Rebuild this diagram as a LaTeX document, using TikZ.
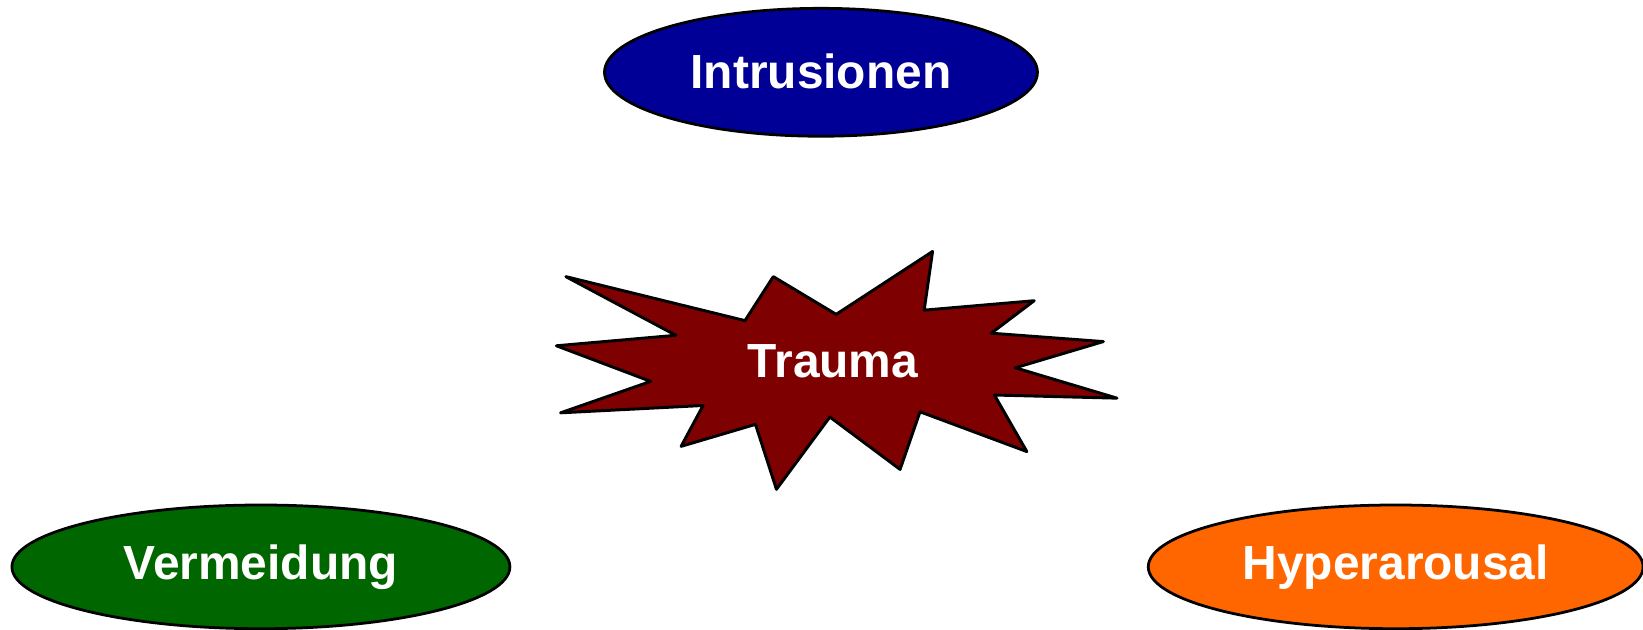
\documentclass[tikz,border=0pt]{standalone}
\usepackage{fontspec}
\setmainfont{Liberation Sans}
\usepackage{xcolor}
\usetikzlibrary{shapes.geometric}
\definecolor{IntrBlue}{HTML}{000096}
\definecolor{AvoidGreen}{HTML}{006600}
\definecolor{ArousalOrange}{HTML}{FF6600}
\definecolor{TraumaRed}{HTML}{7F0000}

\begin{document}
\begin{tikzpicture}[
  x=0.01cm,y=-0.01cm,
  every node/.style={font=\fontsize{13}{15}\selectfont\bfseries,text=white},
  symptom/.style={ellipse,draw=black,line width=0.75pt,inner sep=0pt,minimum height=1.18cm},
  burst/.style={draw=black,fill=TraumaRed,line width=0.8pt,line join=round}
]
  \useasboundingbox (0,0) rectangle (1568,601);

  % trauma burst
  \draw[burst] (540,264) -- (711,306) -- (738,264) -- (798,300) -- (890,240)
    -- (882,296) -- (987,287) -- (946,318) -- (1053,326) -- (969,351)
    -- (1066,380) -- (949,377) -- (980,431) -- (878,393) -- (859,448)
    -- (792,398) -- (741,467) -- (721,405) -- (650,426) -- (671,387)
    -- (535,394) -- (621,364) -- (531,330) -- (645,320) -- cycle;
  \node (trauma) at (795,345) {Trauma};

  % symptom clusters
  \node[symptom,fill=IntrBlue,minimum width=4.13cm,minimum height=1.22cm] (intrusion) at (783.5,69) {\raisebox{0.7pt}{Intrusionen}};
  \node[symptom,fill=AvoidGreen,minimum width=4.75cm] (avoid) at (249,541) {Vermeidung};
  \node[symptom,fill=ArousalOrange,minimum width=4.72cm] (arousal) at (1332,541) {Hyperarousal};
\end{tikzpicture}
\end{document}
